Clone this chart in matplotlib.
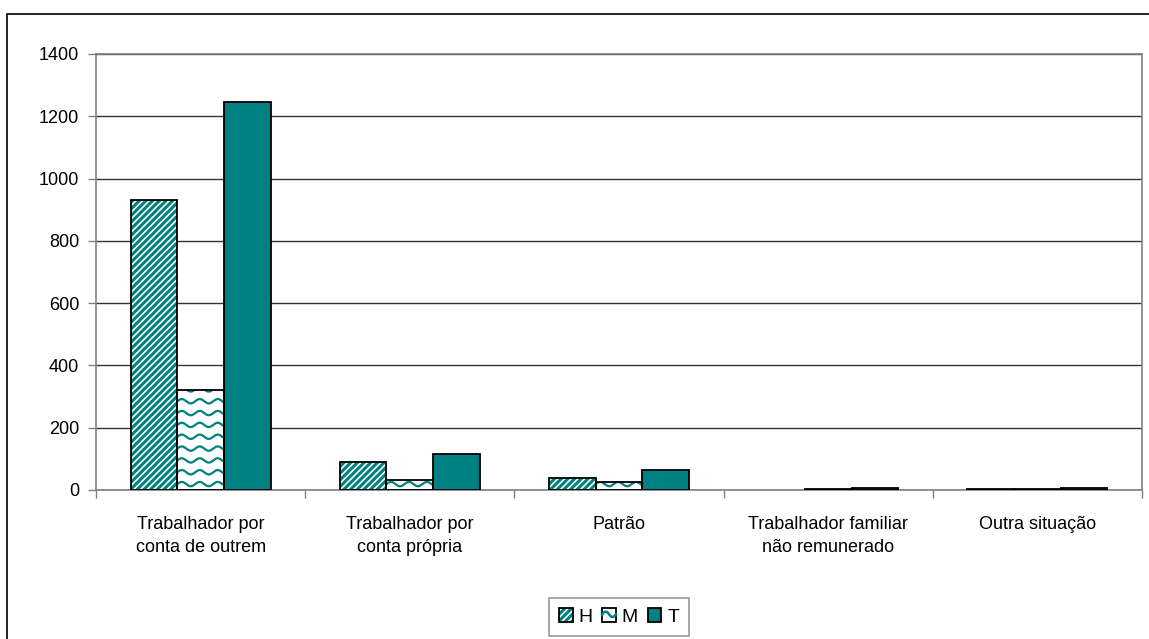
import numpy as np
import matplotlib.pyplot as plt
from matplotlib.patches import Rectangle, Patch
from matplotlib.lines import Line2D
from matplotlib.legend_handler import HandlerPatch

plt.rcParams['font.family'] = ['Liberation Sans', 'DejaVu Sans']
plt.rcParams['hatch.linewidth'] = 2.2

categorias = ['Trabalhador por\nconta de outrem', 'Trabalhador por\nconta própria',
              'Patrão', 'Trabalhador familiar\nnão remunerado', 'Outra situação']
H = [931, 90, 39, 0, 3]
M = [321, 32, 26, 4, 2]
T = [1246, 116, 64, 5, 5]

verde = '#008080'
w = 0.223
x = np.arange(len(categorias))

fig = plt.figure(figsize=(11.49, 6.39), dpi=100)
ax = fig.add_axes([96/1149, 1 - 490/639, (1142 - 96)/1149, (490 - 54)/639])

# moldura exterior do gráfico
fig.patches.append(Rectangle((7/1149, -0.2), 2, 1 - 14/639 + 0.2, transform=fig.transFigure,
                             fill=False, edgecolor='black', linewidth=1.2, zorder=0))


def ondas(ax, x0, x1, y1, clip):
    # textura ondulada dentro da barra
    xs = np.linspace(x0, x1, 200)
    per = 0.086
    amp = 7.0
    passo = 38.0
    y = passo / 2
    while y < y1 + passo:
        ys = y + amp * np.sin(2 * np.pi * (xs - x0) / per)
        ln, = ax.plot(xs, ys, color=verde, lw=1.6, zorder=3)
        ln.set_clip_path(clip)
        y += passo


# H
b1 = ax.bar(x - w, H, w, color='white', hatch='/////', edgecolor=verde, linewidth=0, zorder=2)
# M
b2 = ax.bar(x, M, w, color='white', linewidth=0, zorder=2)
for r in b2:
    ondas(ax, r.get_x(), r.get_x() + r.get_width(), r.get_height(), r)
# T
b3 = ax.bar(x + w, T, w, color=verde, linewidth=0, zorder=2)

for serie, dados in [(b1, H), (b2, M), (b3, T)]:
    for r, v in zip(serie, dados):
        if v > 0:
            ax.add_patch(Rectangle((r.get_x(), 0), r.get_width(), v, fill=False,
                                   edgecolor='black', linewidth=1.3, zorder=4))

ax.set_xlim(-0.5, len(categorias) - 0.5)
ax.set_ylim(0, 1400)
ax.set_yticks(range(0, 1401, 200))
ax.yaxis.grid(True, color='#333333', linewidth=1)
ax.set_axisbelow(True)

ax.set_xticks(x)
ax.set_xticklabels(categorias, fontsize=13, linespacing=1.45)
ax.tick_params(axis='x', which='major', length=0, pad=19)
ax.set_xticks(np.arange(-0.5, len(categorias), 1), minor=True)
ax.tick_params(axis='x', which='minor', length=6, color='#808080', width=1)
ax.tick_params(axis='y', length=6, color='#808080', width=1, labelsize=13, pad=6)

for s in ax.spines.values():
    s.set_color('#808080')
    s.set_linewidth(1.2)


class HandlerOndas(HandlerPatch):
    def create_artists(self, legend, orig_handle, xdescent, ydescent, width, height, fontsize, trans):
        r = Rectangle((-xdescent, -ydescent), width, height, facecolor='white',
                      edgecolor='black', linewidth=1.3, transform=trans)
        xs = np.linspace(-xdescent, -xdescent + width, 30)
        ys = -ydescent + height * (0.55 + 0.2 * np.sin(2 * np.pi * xs / width))
        ln = Line2D(xs, ys, color=verde, lw=1.8, transform=trans)
        return [r, ln]


class HandlerHatch(HandlerPatch):
    def create_artists(self, legend, orig_handle, xdescent, ydescent, width, height, fontsize, trans):
        r = Rectangle((-xdescent, -ydescent), width, height, facecolor='white',
                      hatch='/////', edgecolor=verde, linewidth=0, transform=trans)
        b = Rectangle((-xdescent, -ydescent), width, height, fill=False,
                      edgecolor='black', linewidth=1.3, transform=trans)
        return [r, b]


hH = Patch(facecolor='white')
hM = Patch(facecolor='white')
hT = Patch(facecolor=verde, edgecolor='black', linewidth=1.3)

leg = fig.legend([hH, hM, hT], ['H', 'M', 'T'], loc='center', ncol=3,
                 bbox_to_anchor=(619/1149, 1 - 617/639), fontsize=14,
                 handlelength=0.7, handleheight=0.7, handletextpad=0.3,
                 columnspacing=0.5, borderpad=0.5, fancybox=False,
                 handler_map={hM: HandlerOndas(), hH: HandlerHatch()})
leg.get_frame().set_edgecolor('#808080')
leg.get_frame().set_linewidth(1.2)

fig.savefig('out.png', dpi=100)
